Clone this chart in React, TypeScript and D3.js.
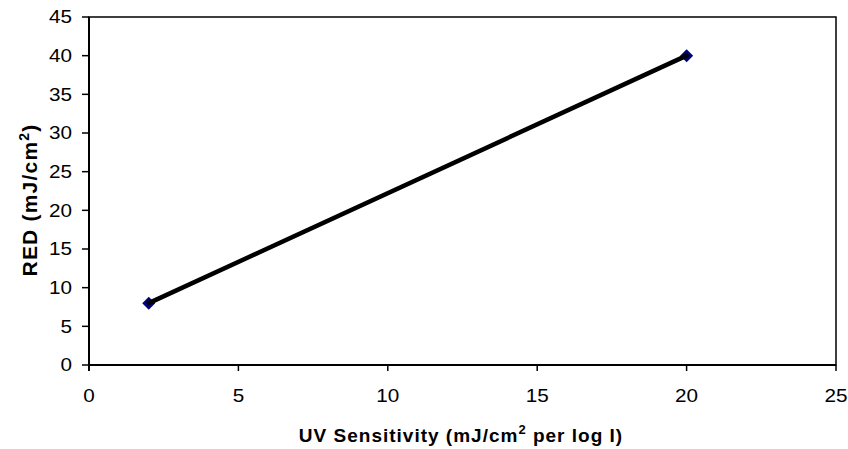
import React from "react";
import * as d3 from "d3";

const xValues = [2, 20];
const yValues = [8, 40];
const xTicks = [0, 5, 10, 15, 20, 25];
const yTicks = [0, 5, 10, 15, 20, 25, 30, 35, 40, 45];

const W = 848;
const H = 449;
const left = 89;
const right = 836;
const top = 17;
const bottom = 365;

export default function App() {
  const x = d3.scaleLinear().domain([0, 25]).range([left, right]);
  const y = d3.scaleLinear().domain([0, 45]).range([bottom, top]);
  const pts = xValues.map((v, i) => [x(v), y(yValues[i])] as [number, number]);
  const line = d3.line()(pts) || "";
  const font = "'Liberation Sans', Arial, sans-serif";
  const m = 6.5;
  return (
    <svg width={W} height={H} style={{ position: "absolute", left: 0, top: 0 }} fontFamily={font}>
      <rect x={0} y={0} width={W} height={H} fill="#fff" />
      <rect x={left} y={top} width={right - left} height={bottom - top} fill="none" stroke="#000" strokeWidth={1.5} />
      <line x1={left} x2={left} y1={top} y2={bottom + 6} stroke="#000" strokeWidth={2} />
      <line x1={left - 1} x2={right} y1={bottom} y2={bottom} stroke="#000" strokeWidth={2} />
      {yTicks.map((t) => (
        <g key={"y" + t}>
          <line x1={left - 7} x2={left} y1={y(t)} y2={y(t)} stroke="#000" strokeWidth={1.5} />
          <text x={left - 17} y={y(t)} dy="0.36em" textAnchor="end" fontSize={18}
            transform={`translate(${left - 17},0) scale(1.15,1) translate(${-(left - 17)},0)`}>{t}</text>
        </g>
      ))}
      {xTicks.map((t) => (
        <g key={"x" + t}>
          <line x1={x(t)} x2={x(t)} y1={bottom} y2={bottom + 6} stroke="#000" strokeWidth={1.5} />
          <text x={x(t)} y={402} textAnchor="middle" fontSize={18}
            transform={`translate(${x(t)},0) scale(1.15,1) translate(${-x(t)},0)`}>{t}</text>
        </g>
      ))}
      {pts.map((p, i) => (
        <path key={"m" + i} d={`M${p[0]},${p[1] - m}L${p[0] + m},${p[1]}L${p[0]},${p[1] + m}L${p[0] - m},${p[1]}Z`} fill="#000080" />
      ))}
      <path d={line} fill="none" stroke="#000" strokeWidth={4.5} strokeLinecap="round" />
      <text x={461} y={442} textAnchor="middle" fontSize={19} fontWeight="bold" letterSpacing={1}>
        UV Sensitivity (mJ/cm<tspan dy={-8} fontSize={13}>2</tspan><tspan dy={8}> per log I)</tspan>
      </text>
      <text transform={`translate(37,200) rotate(-90)`} textAnchor="middle" fontSize={21} fontWeight="bold" letterSpacing={1.2}>
        RED (mJ/cm<tspan dy={-8} fontSize={14}>2</tspan><tspan dy={8}>)</tspan>
      </text>
    </svg>
  );
}
